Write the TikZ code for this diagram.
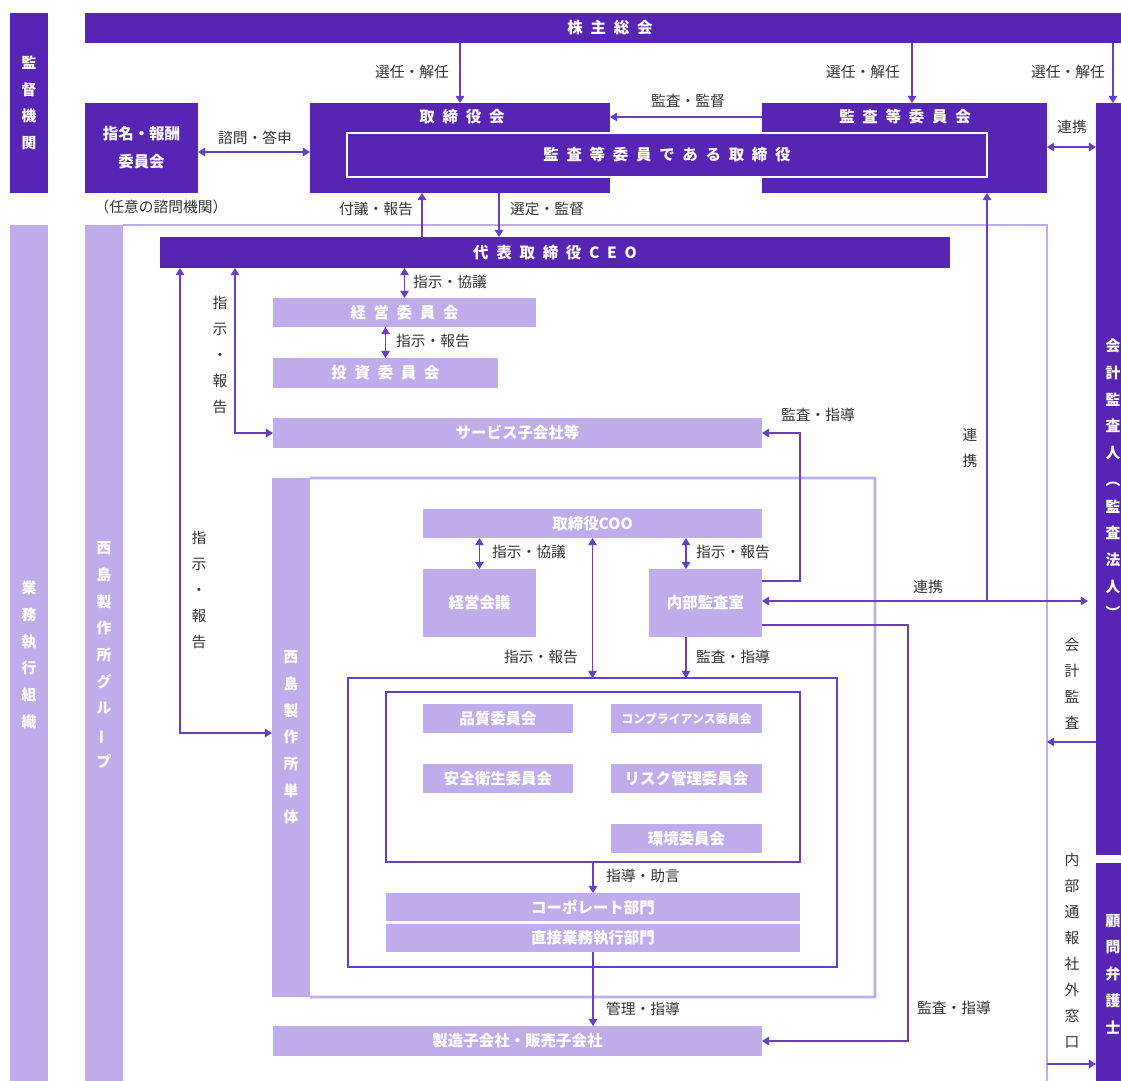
\documentclass[tikz,border=0pt]{standalone}
\usepackage{fontspec}
\setmainfont{Noto Sans CJK JP}
\newfontfamily\jpls[LetterSpace=50]{Noto Sans CJK JP}
\usetikzlibrary{arrows.meta}
\definecolor{dk}{RGB}{88,36,180}
\definecolor{lt}{RGB}{192,172,234}
\definecolor{ln}{RGB}{104,62,200}
\definecolor{tx}{RGB}{51,51,51}
\newcommand\boxfont{\bfseries\fontsize{11}{13}\selectfont}
\newcommand\ls[1]{{\jpls #1}\hspace{-0.5em}}

\begin{document}
\begin{tikzpicture}[x=0.025cm,y=-0.025cm,>={Triangle[length=5pt,width=6pt]},
  wh/.style 2 args={minimum width=#1*0.025cm,minimum height=#2*0.025cm},
  dbox/.style={fill=dk,text=white,inner sep=0pt,outer sep=0pt,font=\boxfont},
  lbox/.style={fill=lt,text=white,inner sep=0pt,outer sep=0pt,font=\boxfont},
  dtxt/.style={text=white,inner sep=0pt,font=\boxfont},
  vt/.style={align=center,font=\bfseries\fontsize{10.5}{19}\selectfont},
  lab/.style={text=tx,inner sep=1pt,font=\fontsize{10.5}{12}\selectfont},
  vlab/.style={text=tx,align=center,inner sep=0pt,font=\fontsize{10.5}{18.5}\selectfont},
  arr/.style={draw=ln,line width=1pt,->},
  darr/.style={draw=ln,line width=1pt,<->},
  frm/.style={draw=lt,line width=2pt},
  ifrm/.style={draw=ln,line width=1pt,inner sep=0pt,outer sep=0pt}]
\useasboundingbox (0,0) rectangle (1121,1081);

% left bars
\node[dbox,vt,wh={38}{180}] (kansa) at (29,103) {監\\督\\機\\関};
\node[lbox,vt,wh={38}{860}] (gyomu) at (29,655) {業\\務\\執\\行\\組\\織};

% top: shareholders, board
\node[dbox,wh={1050}{30}] (kabunushi) at (610,28) {\ls{株主総会}};
\node[dbox,align=center,wh={113}{90},font=\bfseries\fontsize{11}{20}\selectfont] (shimei) at (141.5,148) {指名・報酬\\委員会};
\node[lab] (shimeisub) at (161,207) {（任意の諮問機関）};
\node[dbox,wh={300}{90}] (tori) at (460,148) {};
\node[dbox,wh={285}{90}] (kansatou) at (904.5,148) {};
\node[dbox,draw=white,line width=1.5pt,wh={640}{44}] (kansain) at (667,155) {\ls{監査等委員である取締役}};
\node[dtxt] (torititle) at (462,117) {\ls{取締役会}};
\node[dtxt] (kansatoutitle) at (905,117) {\ls{監査等委員会}};

% right bars
\node[dbox,vt,wh={34}{752}] (kaikei) at (1113,479) {会\\計\\監\\査\\人\\︵\\監\\査\\法\\人\\︶};
\node[dbox,vt,wh={34}{222}] (komon) at (1113,974) {顧\\問\\弁\\護\\士};

% group frame
\node[lbox,vt,wh={38}{860}] (grpbar) at (104,655) {西\\島\\製\\作\\所\\グ\\ル\\\rotatebox[origin=c]{90}{ー}\\プ};
\draw[frm] (grpbar.north east) -- (1047,225) -- (1047,1090);

% single company frame
\node[lbox,vt,wh={38}{519}] (tantai) at (291,737.5) {西\\島\\製\\作\\所\\単\\体};
\draw[frm] (tantai.north east) -- (875,478) -- (875,997) -- (tantai.south east);

% execution side
\node[dbox,wh={790}{31}] (ceo) at (555,252.5) {\ls{代表取締役CEO}};
\node[lbox,wh={263}{29}] (keiei) at (404.5,312.5) {\ls{経営委員会}};
\node[lbox,wh={225}{30}] (toushi) at (385.5,373) {\ls{投資委員会}};
\node[lbox,wh={489}{30}] (service) at (517.5,433) {サービス子会社等};
\node[lbox,wh={339}{29}] (coo) at (592.5,523.5) {取締役COO};
\node[lbox,wh={113}{68}] (kaigi) at (479.5,603) {経営会議};
\node[lbox,wh={113}{68}] (naibu) at (705.5,603) {内部監査室};
\node[ifrm,wh={489}{289}] (execframe) at (592.5,822.5) {};
\node[ifrm,wh={414}{170}] (iinframe) at (593,777) {};
\node[lbox,wh={150}{29}] (hinshitsu) at (498,718.5) {品質委員会};
\node[lbox,wh={151}{29},font=\bfseries\fontsize{8.5}{10}\selectfont] (compliance) at (686.5,718.5) {コンプライアンス委員会};
\node[lbox,wh={150}{29}] (anzen) at (498,778.5) {安全衛生委員会};
\node[lbox,wh={151}{29}] (risk) at (686.5,778.5) {リスク管理委員会};
\node[lbox,wh={151}{29}] (kankyo) at (686.5,838.5) {環境委員会};
\node[lbox,wh={414}{28}] (corporate) at (593,907) {コーポレート部門};
\node[lbox,wh={414}{28}] (chokusetsu) at (593,938) {直接業務執行部門};
\node[lbox,wh={489}{30}] (seizou) at (517.5,1041) {製造子会社・販売子会社};
\coordinate (renkei) at (987,601);

% connectors
\draw[arr] (kabunushi.south -| tori.north) -- (tori.north);
\draw[arr] (kabunushi.south -| 912,0) -- (kansatou.north -| 912,0);
\draw[arr] (kabunushi.south -| 1113,0) -- (kaikei.north);
\draw[arr] (kansatou.west |- 0,117) -- (tori.east |- 0,117);
\draw[darr] (shimei.east |- 0,152) -- (tori.west |- 0,152);
\draw[darr] (kansatou.east |- 0,147) -- (kaikei.west |- 0,147);
\draw[arr] (ceo.north -| 422,0) -- (tori.south -| 422,0);
\draw[arr] (tori.south -| 499,0) -- (ceo.north -| 499,0);
\draw[darr] (ceo.south -| keiei.north) -- (keiei.north);
\draw[darr] (keiei.south -| toushi.north) -- (toushi.north);
\draw[darr] (ceo.south -| 235,0) |- (service.west);
\draw[darr] (ceo.south -| 180,0) |- (tantai.west |- 0,733);
\draw[darr] (coo.south -| kaigi.north) -- (kaigi.north);
\draw[darr] (coo.south -| 686,0) -- (naibu.north -| 686,0);
\draw[darr] (coo.south) -- (coo.south |- execframe.north);
\draw[arr] (naibu.south -| 686,0) -- (execframe.north -| 686,0);
\draw[arr] (naibu.east |- 0,581) -| (800,433) -- (service.east);
\draw[darr,shorten >=8*0.025cm] (naibu.east |- 0,601) -- (kaikei.west |- 0,601);
\draw[arr] (renkei) -- (kansatou.south -| renkei);
\draw[arr] (naibu.east |- 0,625) -| (908,1041) -- (seizou.east);
\draw[arr] (iinframe.south) -- (corporate.north);
\draw[arr] (chokusetsu.south) -- (seizou.north -| chokusetsu.south);
\draw[arr] (kaikei.west |- 0,742) -- (1047,742);
\draw[arr] (1047,1064) -- (komon.west |- 0,1064);

% labels
\node[lab] (l1) at (412,72) {選任・解任};
\node[lab] (l2) at (863,72) {選任・解任};
\node[lab] (l3) at (1068,72) {選任・解任};
\node[lab] (l4) at (688,101) {監査・監督};
\node[lab] (l5) at (255,138) {諮問・答申};
\node[lab] (l6) at (1072,127) {連携};
\node[lab] (l7) at (376,209) {付議・報告};
\node[lab] (l8) at (547,209) {選定・監督};
\node[lab] (l9) at (450,282) {指示・協議};
\node[lab] (l10) at (433,341) {指示・報告};
\node[vlab] (l11) at (220,355) {指\\示\\・\\報\\告};
\node[vlab] (l12) at (199,590) {指\\示\\・\\報\\告};
\node[lab] (l13) at (818,415) {監査・指導};
\node[vlab] (l14) at (970,448) {連\\携};
\node[lab] (l15) at (529,552) {指示・協議};
\node[lab] (l16) at (733,552) {指示・報告};
\node[lab] (l17) at (541,657) {指示・報告};
\node[lab] (l18) at (733,657) {監査・指導};
\node[lab] (l19) at (928,587) {連携};
\node[vlab] (l20) at (1072,684) {会\\計\\監\\査};
\node[lab] (l21) at (643,876) {指導・助言};
\node[lab] (l22) at (643,1009) {管理・指導};
\node[lab] (l23) at (954,1008) {監査・指導};
\node[vlab] (l24) at (1072,951) {内\\部\\通\\報\\社\\外\\窓\\口};
\end{tikzpicture}
\end{document}
